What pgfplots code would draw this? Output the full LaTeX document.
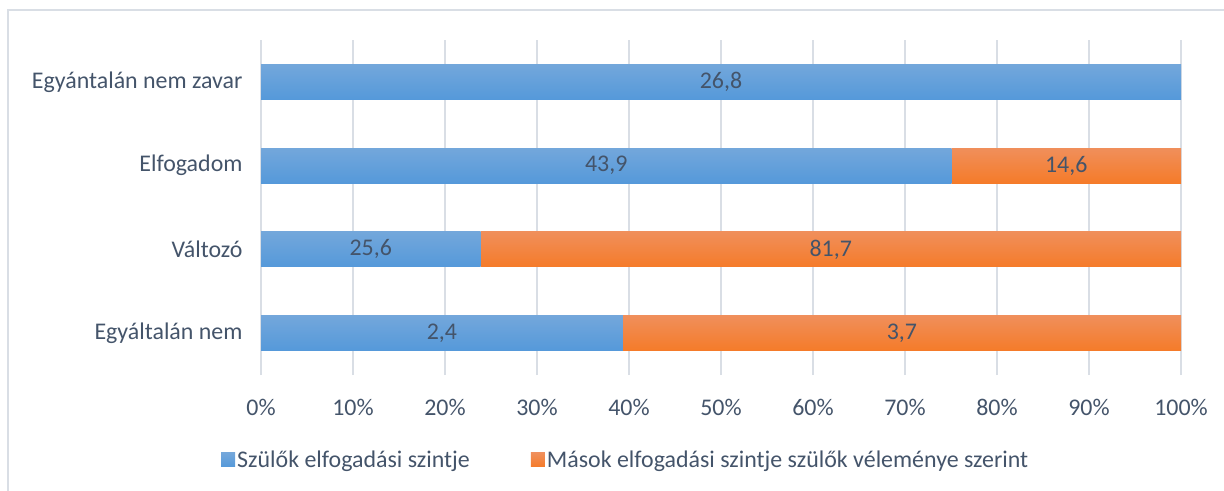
\documentclass[border=0pt]{standalone}
\usepackage{fontspec}
\setmainfont{Carlito}
\usepackage{pgfplots}
\pgfplotsset{compat=1.18}
\definecolor{txt}{HTML}{44546A}
\definecolor{grd}{HTML}{D9DEE5}
\definecolor{btop}{HTML}{73A7DB}
\definecolor{bbot}{HTML}{5599DA}
\definecolor{otop}{HTML}{F08F5B}
\definecolor{obot}{HTML}{F57B29}
\pgfplotsset{
  legimg/.style={legend image code/.code={\path[##1,draw=none] (-4bp,-7bp) rectangle (10bp,7bp);}},
  rowax/.style={
    at={(261bp,-375bp)}, anchor=south west,
    scale only axis, width=920bp, height=335bp,
    xbar stacked, bar width=35bp,
    xmin=0, xmax=100, ymin=-0.5, ymax=3.5,
    nodes near coords,
    point meta=explicit symbolic,
    nodes near coords style={font=\fontsize{24}{28}\selectfont, text=txt, anchor=center},
  },
  blue/.style={draw=none, top color=btop, bottom color=bbot, legimg},
  orange/.style={draw=none, top color=otop, bottom color=obot, legimg},
}
\begin{document}
\begin{tikzpicture}[x=1bp,y=1bp]
\path[use as bounding box] (0,0) rectangle (1224,-491);
\draw[grd, line width=1.5bp] (8,-491) -- (8,-10) -- (1224,-10);
% main axis: grid, ticks, legend, and the row "Egyáltalán nem"
\begin{axis}[rowax,
  xtick={0,10,...,100},
  xticklabel={\pgfmathprintnumber{\tick}\%},
  ytick={0,1,2,3},
  yticklabels={Egyáltalán nem, Változó, Elfogadom, Egyántalán nem zavar},
  /pgf/number format/assume math mode=true,
  xmajorgrids, grid style={grd, line width=1.5bp},
  axis line style={draw=none},
  major tick length=0pt,
  tick label style={font=\fontsize{24}{28}\selectfont, text=txt},
  xticklabel style={yshift=-21bp},
  yticklabel style={xshift=-15bp},
  legend style={draw=none, fill=none, at={(-0.0467,-0.2537)}, anchor=west,
    legend columns=2, font=\fontsize{24}{28}\selectfont, text=txt,
    /tikz/every even column/.append style={column sep=59bp}},
  legend cell align=left,
]
\addplot[blue] table[row sep=\\, x=w, y=y, meta=lab] {w y lab\\ 39.34 0 2,4\\};
\addplot[orange] table[row sep=\\, x=w, y=y, meta=lab] {w y lab\\ 60.66 0 3,7\\};
\legend{Szülők elfogadási szintje, Mások elfogadási szintje szülők véleménye szerint}
\end{axis}
% Változó
\begin{axis}[rowax, hide axis]
\addplot[blue] table[row sep=\\, x=w, y=y, meta=lab] {w y lab\\ 23.86 1 25,6\\};
\addplot[orange] table[row sep=\\, x=w, y=y, meta=lab] {w y lab\\ 76.14 1 81,7\\};
\end{axis}
% Elfogadom
\begin{axis}[rowax, hide axis]
\addplot[blue] table[row sep=\\, x=w, y=y, meta=lab] {w y lab\\ 75.04 2 43,9\\};
\addplot[orange] table[row sep=\\, x=w, y=y, meta=lab] {w y lab\\ 24.96 2 14,6\\};
\end{axis}
% Egyántalán nem zavar
\begin{axis}[rowax, hide axis]
\addplot[blue] table[row sep=\\, x=w, y=y, meta=lab] {w y lab\\ 100 3 26,8\\};
\end{axis}
\end{tikzpicture}
\end{document}
